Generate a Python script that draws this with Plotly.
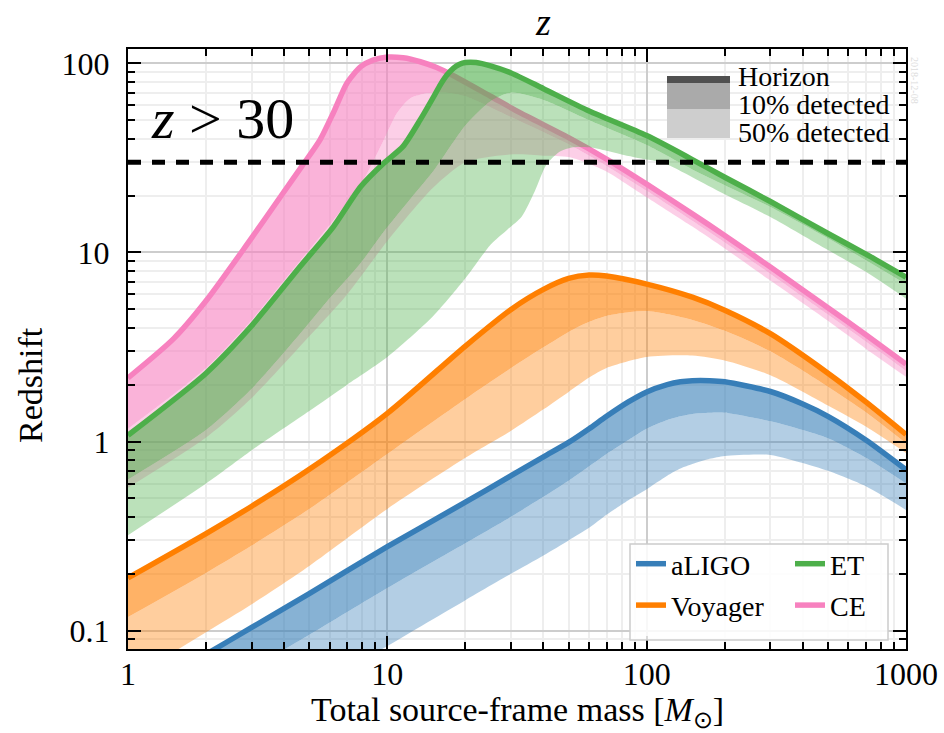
import plotly.graph_objects as go

# ---------------- data ----------------
aligo_mass = [1, 2, 3, 5, 10, 20, 30, 40, 50, 60, 70, 85, 100, 120, 135, 150, 175, 200, 300, 400, 500, 700, 1000]
aligo_horizon = [0.043, 0.075, 0.104, 0.157, 0.278, 0.478, 0.66, 0.83, 0.99, 1.17, 1.36, 1.62, 1.83, 2.00, 2.07, 2.10, 2.10, 2.07, 1.84, 1.58, 1.36, 1.02, 0.71]
aligo_10pct = [0.026, 0.045, 0.063, 0.095, 0.168, 0.29, 0.40, 0.51, 0.62, 0.74, 0.86, 1.02, 1.17, 1.30, 1.36, 1.40, 1.42, 1.42, 1.28, 1.15, 1.04, 0.82, 0.60]
aligo_50pct = [0.013, 0.023, 0.031, 0.047, 0.083, 0.145, 0.20, 0.25, 0.30, 0.35, 0.41, 0.49, 0.56, 0.66, 0.72, 0.76, 0.81, 0.84, 0.85, 0.77, 0.70, 0.58, 0.435]

voyager_mass = [1, 2, 3, 5, 10, 20, 30, 40, 50, 60, 70, 100, 150, 200, 300, 500, 700, 1000]
voyager_horizon = [0.19, 0.326, 0.455, 0.713, 1.41, 3.2, 5.0, 6.38, 7.29, 7.59, 7.5, 6.8, 5.8, 4.95, 3.72, 2.3, 1.62, 1.09]
voyager_10pct = [0.118, 0.202, 0.282, 0.44, 0.86, 1.68, 2.45, 3.15, 3.8, 4.3, 4.62, 4.9, 4.4, 3.85, 3.0, 1.95, 1.43, 0.98]
voyager_50pct = [0.055, 0.098, 0.138, 0.22, 0.44, 0.82, 1.14, 1.48, 1.83, 2.18, 2.45, 2.8, 2.85, 2.68, 2.24, 1.55, 1.20, 0.87]

et_mass_h = [1, 2, 3, 3.38, 4.6, 6.2, 7.9, 9.7, 11.5, 13.4, 15.1, 16, 17, 18, 19, 20, 22, 25, 30, 40, 60, 100, 150, 200, 300, 500, 700, 1000]
et_horizon = [1.08, 2.3, 4.1, 5.0, 8.4, 13.7, 22.3, 29.7, 36.4, 50.4, 66.8, 77, 87, 94.5, 99, 101, 101, 97, 89, 73.5, 56, 41.5, 31, 25, 18.6, 12.6, 9.8, 7.4]
et_mass_10 = [1, 2, 3, 4.6, 5.85, 7.9, 9.7, 12, 15, 20, 25, 30, 40, 60, 100, 150, 200, 300, 500, 700, 1000]
et_10pct = [0.63, 1.15, 1.9, 3.7, 5.5, 8.8, 12.9, 18.5, 26.8, 47, 63, 70, 64, 50, 37, 27.5, 22.7, 17.4, 11.9, 9.1, 6.8]
et_mass_50 = [1, 2, 3, 5, 7, 10, 15, 20, 25, 29, 33, 37, 41, 46, 52, 60, 70, 80, 100, 115, 150, 200, 300, 500, 700, 1000]
et_50pct = [0.32, 0.6, 0.9, 1.45, 2.0, 2.8, 4.6, 7.3, 11.0, 13.2, 15.5, 21, 29, 34, 36, 36, 34.5, 33, 31, 30, 25, 20.3, 15.4, 10.3, 7.9, 5.7]

ce_mass_h = [1, 1.5, 2, 2.9, 4, 4.7, 5.5, 6.2, 7, 7.9, 8.8, 10, 11.5, 13.4, 15.5, 18, 25, 32.6, 50, 70, 100, 150, 200, 300, 500, 700, 1000]
ce_horizon = [2.17, 3.5, 5.55, 11.2, 21, 28.8, 39.4, 55, 79, 96, 104, 108, 107, 102, 95, 86, 67, 54.7, 40.5, 31.2, 23.0, 16.0, 12.3, 8.37, 5.1, 3.67, 2.57]
ce_mass_10 = [1, 2, 3, 4.6, 6.2, 8.1, 9.7, 10.9, 12.3, 14.2, 17, 20, 30, 50, 70, 100, 150, 200, 300, 500, 700, 1000]
ce_10pct = [1.17, 2.45, 4.4, 9.0, 14.8, 24.3, 39.5, 54.7, 65.6, 69.6, 70, 67, 52, 37.3, 28.7, 21.2, 14.7, 11.3, 7.7, 4.7, 3.38, 2.36]
ce_mass_50 = [1, 2, 3, 5, 7, 10, 15, 20, 30, 40, 50, 60, 70, 100, 150, 200, 300, 500, 700, 1000]
ce_50pct = [0.57, 1.05, 1.7, 3.6, 6.0, 11.5, 22, 30, 33, 32.5, 32, 29.5, 26.8, 19.6, 13.7, 10.5, 7.1, 4.35, 3.1, 2.2]

threshold_z = 30
x_tick_values = [1, 10, 100, 1000]
x_tick_labels = ["1", "10", "100", "1000"]
y_tick_values = [0.1, 1, 10, 100]
y_tick_labels = ["0.1", "1", "10", "100"]

# ---------------- styling ----------------
FONT = "Liberation Serif, Times New Roman, serif"
RGB = {"aLIGO": "55,126,184", "Voyager": "255,127,0", "ET": "77,175,74", "CE": "247,129,191"}
L, R, T, B = 128, 38, 49, 84
W, H = 944, 733
PW, PH = W - L - R, H - T - B


def px(xp):
    return (xp - L) / PW


def py(yp):
    return (H - B - yp) / PH


fig = go.Figure()


def add_detector(name, m_h, z_h, m_10, z_10, m_50, z_50, legend, rank):
    rgb = RGB[name]
    common = dict(mode="lines", hoverinfo="skip", showlegend=False)
    fig.add_trace(go.Scatter(x=m_h, y=z_h, line=dict(width=0, shape="spline", smoothing=0.7), **common))
    fig.add_trace(go.Scatter(x=m_10, y=z_10, line=dict(width=0, shape="spline", smoothing=0.7),
                             fill="tonexty", fillcolor=f"rgba({rgb},0.6)", **common))
    fig.add_trace(go.Scatter(x=m_50, y=z_50, line=dict(width=0, shape="spline", smoothing=0.7),
                             fill="tonexty", fillcolor=f"rgba({rgb},0.38)", **common))
    fig.add_trace(go.Scatter(x=m_h, y=z_h, mode="lines", name=name,
                             line=dict(color=f"rgb({rgb})", width=5.5, shape="spline", smoothing=0.7),
                             legend=legend, legendrank=rank, legendgroup=name))


add_detector("aLIGO", aligo_mass, aligo_horizon, aligo_mass, aligo_10pct, aligo_mass, aligo_50pct, "legend", 1)
add_detector("Voyager", voyager_mass, voyager_horizon, voyager_mass, voyager_10pct, voyager_mass, voyager_50pct, "legend", 2)
add_detector("CE", ce_mass_h, ce_horizon, ce_mass_10, ce_10pct, ce_mass_50, ce_50pct, "legend2", 2)
add_detector("ET", et_mass_h, et_horizon, et_mass_10, et_10pct, et_mass_50, et_50pct, "legend2", 1)

fig.add_trace(go.Scatter(x=[x_tick_values[0], x_tick_values[-1]], y=[threshold_z, threshold_z], mode="lines",
                         line=dict(color="black", width=5, dash="13px,11px"), showlegend=False, hoverinfo="skip"))

axis_common = dict(
    type="log", showline=True, linecolor="black", linewidth=2, mirror="allticks",
    ticks="inside", ticklen=13, tickwidth=2, tickcolor="black", automargin=False,
    showgrid=True, gridcolor="#cdcdcd", gridwidth=2, zeroline=False,
    tickfont=dict(family=FONT, size=32, color="black"),
)

x_minor = [m * 10 ** d for d in range(0, 3) for m in range(2, 10)]
y_minor = [0.09] + [m * 10 ** d for d in range(-1, 2) for m in range(2, 10)]

fig.update_xaxes(range=[0, 3], tickvals=x_tick_values, ticktext=x_tick_labels, ticklabelstandoff=-4,
                 minor=dict(tickvals=x_minor, ticks="inside", ticklen=7, tickwidth=1.5, tickcolor="black",
                            showgrid=True, gridcolor="#eeeeee", gridwidth=1.5),
                 **axis_common)
fig.update_yaxes(range=[-1.097, 2.076], tickvals=y_tick_values, ticktext=y_tick_labels, ticklabelstandoff=10,
                 minor=dict(tickvals=y_minor, ticks="inside", ticklen=7, tickwidth=1.5, tickcolor="black",
                            showgrid=True, gridcolor="#eeeeee", gridwidth=1.5),
                 **axis_common)

legend_font = dict(family=FONT, size=28, color="black")
fig.update_layout(
    width=W, height=H, margin=dict(l=L, r=R, t=T, b=B, autoexpand=False),
    paper_bgcolor="white", plot_bgcolor="white",
    legend=dict(x=px(631), y=py(539), xanchor="left", yanchor="top", bgcolor="rgba(0,0,0,0)",
                font=legend_font, tracegroupgap=2, itemwidth=30),
    legend2=dict(x=px(790), y=py(539), xanchor="left", yanchor="top", bgcolor="rgba(0,0,0,0)",
                 font=legend_font, tracegroupgap=2, itemwidth=30),
)

shapes = [
    # legend frame
    dict(type="rect", xref="paper", yref="paper", x0=px(630), x1=px(888), y0=py(640), y1=py(544),
         fillcolor="rgba(255,255,255,0.85)", line=dict(color="#cccccc", width=1.5), layer="above"),
    # horizon / detection-fraction key
    dict(type="rect", xref="paper", yref="paper", x0=px(667), x1=px(730), y0=py(83), y1=py(76),
         fillcolor="#505050", line=dict(width=0), layer="above"),
    dict(type="rect", xref="paper", yref="paper", x0=px(667), x1=px(730), y0=py(109), y1=py(83),
         fillcolor="#aaaaaa", line=dict(width=0), layer="above"),
    dict(type="rect", xref="paper", yref="paper", x0=px(667), x1=px(730), y0=py(138), y1=py(109),
         fillcolor="#cecece", line=dict(width=0), layer="above"),
]
fig.update_layout(shapes=shapes)


def note(text, x, y, size, **kw):
    fig.add_annotation(text=text, x=px(x), y=py(y), xref="paper", yref="paper", showarrow=False,
                       font=dict(family=FONT, size=size, color=kw.pop("color", "black")), **kw)


note("Horizon", 736, 77, 28, xanchor="left", yanchor="middle")
note("10% detected", 736, 104, 28, xanchor="left", yanchor="middle")
note("50% detected", 736, 132, 28, xanchor="left", yanchor="middle")
note("<i>z</i> > 30", 222, 118, 58, xanchor="center", yanchor="middle")
note("<i>z</i>", 543, 22, 38, xanchor="center", yanchor="middle")
note("Total source-frame mass [<i>M</i><sub>⊙</sub>]", 517, 712, 34, xanchor="center", yanchor="middle")
note("Redshift", 30, 385, 34, xanchor="center", yanchor="middle", textangle=-90)
note("2018-12-08", 914, 80, 10, xanchor="center", yanchor="middle", textangle=90, color="#dddddd")

fig.write_html("out.html", config={"displayModeBar": False},
               post_script="document.body.style.margin='0px';document.body.style.overflow='hidden';")
